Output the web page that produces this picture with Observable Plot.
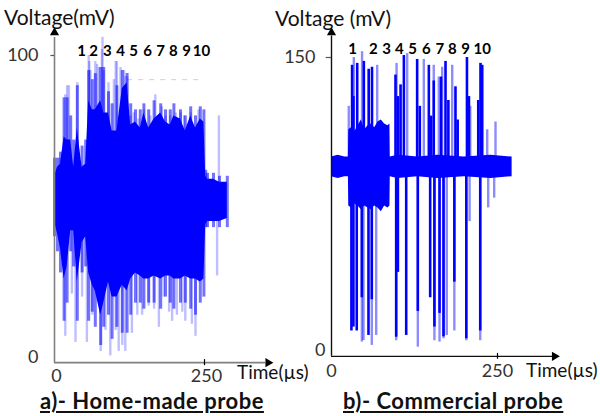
<!DOCTYPE html>
<html><head><meta charset="utf-8">
<script src="https://cdn.jsdelivr.net/npm/d3@7"></script>
<script src="https://cdn.jsdelivr.net/npm/@observablehq/plot@0.6"></script>
<style>
body{margin:0;background:#fff;}
#wrap{position:relative;width:600px;height:416px;font-family:Lato,"Open Sans",sans-serif;color:#111;overflow:hidden;}
.pl{position:absolute;top:0;}
.lbl{position:absolute;white-space:nowrap;transform:translateY(-50%);line-height:1;}
.cap{font-size:22px;font-weight:bold;text-decoration:underline;letter-spacing:0.5px;}
</style></head>
<body>
<div id="wrap">
  <div id="pa" class="pl" style="left:0"></div>
  <div id="pb" class="pl" style="left:300px"></div>
  <div class="lbl" style="left:4px;top:16px;font-size:21px">Voltage(mV)</div>
  <div class="lbl" style="left:275px;top:17px;font-size:21px">Voltage (mV)</div>
  <div class="lbl" style="left:237px;top:371px;font-size:19px">Time(µs)</div>
  <div class="lbl" style="left:526px;top:369px;font-size:19px">Time(µs)</div>
  <div class="lbl cap" style="left:40px;top:401px">a)- Home-made probe</div>
  <div class="lbl cap" style="left:343px;top:401px">b)- Commercial probe</div>
</div>
<script>
// ---------- Panel a: home-made probe ----------
const pulseLabels = ["1","2","3","4","5","6","7","8","9","10"];
const aPulseT = [45, 65, 88, 110, 132, 155, 177, 198, 220, 245];
const aYTicks = [0, 100];
const aXTicks = [0, 250];
const aBase = 52;
const aCoreT  = [0, 5, 10, 16, 21, 27, 32, 38, 46, 52, 57, 63, 68, 77, 82, 90, 96, 104, 113, 121, 127, 135, 143, 149, 157, 166, 177, 185, 193, 199, 210, 218, 227, 235, 243, 249, 252, 255, 265, 275, 288];
const aCoreHi = [60, 63, 64, 73, 72, 72, 63, 76, 63, 64, 85, 82, 82, 85, 81, 81, 75, 75, 89, 91, 77, 78, 76, 81, 76, 79, 81, 78, 77, 80, 79, 75, 80, 76, 79, 78, 60, 59, 59, 58, 58];
const aCoreLo = [45, 41, 36, 26, 30, 42, 42, 25, 38, 40, 28, 24, 22, 14, 18, 25, 20, 20, 24, 22, 26, 28, 27, 26, 26, 27, 26, 27, 27, 26, 26, 27, 26, 26, 25, 26, 44, 45, 45, 45, 46];
const aMidHi  = [66, 66, 68, 86, 86, 80, 72, 90, 70, 72, 95, 92, 94, 96, 96, 88, 84, 90, 95, 94, 84, 82, 82, 84, 82, 85, 84, 82, 82, 84, 82, 80, 83, 80, 83, 82, 62, 61, 61, 60, 60];
const aMidLo  = [40, 35, 28, 12, 18, 35, 30, 12, 28, 30, 12, 15, 10, 4, 10, 14, 6, 10, 8, 8, 14, 18, 18, 16, 18, 18, 16, 20, 18, 16, 18, 18, 16, 14, 18, 20, 43, 43, 43, 43, 43];
const aUpT = [9, 18, 21, 24, 38, 57, 58, 60, 68, 71, 74, 79, 80, 82, 90, 99, 102, 104, 110, 116, 118, 121, 127, 132, 140, 149, 160, 168, 179, 185, 193, 202, 210, 216, 227, 240, 274];
const aUpV = [66, 87, 90, 90, 91, 100, 98, 95, 98, 97, 96, 102, 106, 95, 91, 92, 98, 98, 96, 95, 93, 93, 80, 81, 79, 82, 80, 87, 83, 80, 80, 81, 81, 80, 81, 82, 80];
const aDownT = [18, 29, 35, 46, 54, 63, 77, 85, 93, 102, 107, 113, 118, 129, 138, 146, 157, 166, 174, 182, 191, 196, 204, 213, 218, 229, 235, 271];
const aDownV = [7, 21, 5, 20, 5, 14, 2, 9, 0.5, 9, 2, 4, 2, 8, 14, 14, 17, 16, 10, 20, 15, 12, 14, 15, 12, 11, 7, 27];
const aRefLevel = 92, aRefStart = 122, aRefEnd = 248;

// ---------- Panel b: commercial probe ----------
const bPulseT = [31.6, 63, 83, 102, 122, 143, 163, 182, 202, 227];
const bYTicks = [0, 150];
const bXTicks = [0, 250];
const bBase = 94;
const bCoreT  = [0, 10, 20, 25.5, 26, 30, 35, 40, 45, 50, 55, 60, 65, 70, 75, 80, 85, 88, 88.5, 100, 130, 160, 200, 240, 272];
const bCoreHi = [99, 100, 99, 99, 113, 114, 112, 115, 118, 113, 115, 116, 114, 117, 118, 116, 115, 116, 99, 100, 99, 100, 99, 100, 99];
const bCoreLo = [89, 88, 89, 89, 74, 73, 75, 74, 72, 74, 73, 72, 74, 73, 71, 74, 73, 74, 89, 88, 89, 88, 89, 88, 89];
const bDarkUpT = [31, 33, 38.7, 48.7, 56, 61, 96.4, 100, 104, 109, 129, 133, 146.6, 150, 154, 165, 171.7, 176, 186.7, 190, 204, 207, 221, 224.4, 227];
const bDarkUpV = [146, 130, 147, 148, 144, 145, 141, 130, 136, 151, 149, 125, 146, 120, 138, 140, 148, 128, 135, 118, 150, 130, 128, 147, 146];
const bLightUpT = [26, 33.6, 46, 68.8, 98, 114, 139, 154, 161.6, 166.7, 181.8, 209, 234.5, 247];
const bLightUpV = [125, 150, 153, 146, 147, 152, 149, 146, 140, 145, 146, 125, 113, 117];
const bDarkDownT = [30, 33, 38, 45.7, 55.7, 60.7, 97.4, 100, 112.5, 130, 148.6, 155, 162.7, 168.7, 185, 203, 224];
const bDarkDownV = [10, 12, 10, 27, 7.7, 26, 6.8, 40, 7.7, 20, 27, 12, 19, 7, 35, 6, 10];
const bLightDownT = [45.7, 48.2, 60.7, 67.3, 97.4, 130, 155, 162.7, 168.7, 173.6, 185, 203, 208, 224, 236, 245];
const bLightDownV = [4.3, 5.1, 2.6, 7.7, 5, 1.7, 5, 4.3, 6, 7.7, 10, 5, 66, 5, 73, 78];

const zip = (T, V, base) => T.map((t, i) => ({t, v: V[i], base}));
const blue = "#0000ff";

const aCore = aCoreT.map((t, i) => ({t, hi: aCoreHi[i], lo: aCoreLo[i], mhi: aMidHi[i], mlo: aMidLo[i]}));
const bCore = bCoreT.map((t, i) => ({t, hi: bCoreHi[i], lo: bCoreLo[i]}));
const pulsesA = pulseLabels.map((s, i) => ({s, t: aPulseT[i]}));
const pulsesB = pulseLabels.map((s, i) => ({s, t: bPulseT[i]}));

const plotA = Plot.plot({
  width: 300, height: 416, margin: 0,
  style: {background: "transparent", fontFamily: "Lato, sans-serif", overflow: "visible"},
  x: {domain: [0, 250], range: [54, 204], axis: null},
  y: {domain: [0, 100], range: [357, 55], axis: null},
  marks: [
    Plot.ruleY([aRefLevel], {x1: aRefStart, x2: aRefEnd, stroke: "#f6c0c0", strokeDasharray: "5,6", strokeWidth: 1}),
    Plot.ruleX(zip(aUpT, aUpV, aBase), {x: "t", y1: "base", y2: "v", stroke: blue, strokeOpacity: 0.25, strokeWidth: 2.4}),
    Plot.ruleX(zip(aDownT, aDownV, aBase), {x: "t", y1: "base", y2: "v", stroke: blue, strokeOpacity: 0.25, strokeWidth: 2.4}),
    Plot.ruleX(aCore, {x: "t", y1: "mlo", y2: "mhi", stroke: blue, strokeOpacity: 0.55, strokeWidth: 3}),
    Plot.areaY(aCore, {x: "t", y1: "lo", y2: "hi", fill: blue}),
    Plot.ruleX([0], {y1: -1.7, y2: 106, stroke: "#808080", strokeWidth: 1.6}),
    Plot.ruleY([-1.7], {x1: 0, x2: 352, stroke: "#808080", strokeWidth: 1.6}),
    Plot.dot([0], {x: 0, y: 107.6, symbol: "triangle", r: 3.4, fill: "#000", stroke: null}),
    Plot.dot([0], {x: 356, y: -1.7, symbol: "triangle", r: 3.4, fill: "#000", stroke: null, rotate: 90}),
    Plot.ruleX([250], {y1: -0.7, y2: -2.7, stroke: "#000", strokeWidth: 1.2}),
    Plot.ruleY([100], {x1: -6, x2: 0, stroke: "#555", strokeWidth: 1.2}),
    Plot.text(aYTicks, {x: 0, y: d => d, text: d => String(d), dx: -16, textAnchor: "end", fontSize: 18, fill: "#333"}),
    Plot.text(aXTicks, {x: d => d, y: 0, text: d => String(d), dy: 19, dx: 2, fontSize: 18, fill: "#333"}),
    Plot.text(pulsesA, {x: "t", y: 101.5, text: "s", fontSize: 15, fontWeight: "bold", fill: "#000"})
  ]
});
document.getElementById("pa").appendChild(plotA);

const plotB = Plot.plot({
  width: 300, height: 416, margin: 0,
  style: {background: "transparent", fontFamily: "Lato, sans-serif", overflow: "visible"},
  x: {domain: [0, 250], range: [31, 197], axis: null},
  y: {domain: [0, 150], range: [350, 57], axis: null},
  marks: [
    Plot.ruleX(zip(bLightUpT, bLightUpV, bBase), {x: "t", y1: "base", y2: "v", stroke: blue, strokeOpacity: 0.45, strokeWidth: 2.4}),
    Plot.ruleX(zip(bLightDownT, bLightDownV, bBase), {x: "t", y1: "base", y2: "v", stroke: blue, strokeOpacity: 0.45, strokeWidth: 2.4}),
    Plot.ruleX(zip(bDarkUpT, bDarkUpV, bBase), {x: "t", y1: "base", y2: "v", stroke: blue, strokeWidth: 2.6}),
    Plot.ruleX(zip(bDarkDownT, bDarkDownV, bBase), {x: "t", y1: "base", y2: "v", stroke: blue, strokeWidth: 2.6}),
    Plot.areaY(bCore, {x: "t", y1: "lo", y2: "hi", fill: blue}),
    Plot.ruleX([0], {y1: -3, y2: 161, stroke: "#111", strokeWidth: 1.4}),
    Plot.ruleY([-3], {x1: 0, x2: 333, stroke: "#111", strokeWidth: 1.4}),
    Plot.dot([0], {x: 0, y: 162.8, symbol: "triangle", r: 3.4, fill: "#000", stroke: null}),
    Plot.dot([0], {x: 336, y: -3, symbol: "triangle", r: 3.4, fill: "#000", stroke: null, rotate: 90}),
    Plot.ruleX([250], {y1: -1.5, y2: -4.5, stroke: "#000", strokeWidth: 1.2}),
    Plot.ruleY([150], {x1: -8, x2: 0, stroke: "#555", strokeWidth: 1.2}),
    Plot.text([150], {x: 0, y: d => d, text: d => String(d), dx: -16, textAnchor: "end", fontSize: 18, fill: "#333"}),
    Plot.text([0], {x: 0, y: d => d, text: d => String(d), dx: -6, textAnchor: "end", fontSize: 18, fill: "#333"}),
    Plot.text(bXTicks, {x: d => d, y: 0, text: d => String(d), dy: 21, fontSize: 18, fill: "#333"}),
    Plot.text(pulsesB, {x: "t", y: 154, text: "s", fontSize: 15, fontWeight: "bold", fill: "#000"})
  ]
});
document.getElementById("pb").appendChild(plotB);
</script>
</body></html>
